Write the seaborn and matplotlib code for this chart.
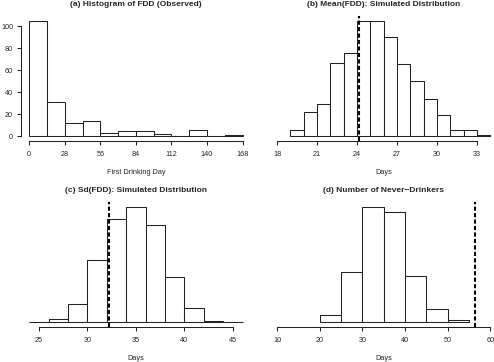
import numpy as np
import pandas as pd
import matplotlib
matplotlib.use("Agg")
import matplotlib.pyplot as plt
import seaborn as sns

# ---- data ----
fdd_edges = [0, 14, 28, 42, 56, 70, 84, 98, 112, 126, 140, 154, 168]
fdd_counts = [105, 31, 12, 14, 3, 5, 5, 2, 0, 6, 0, 1]
fdd_ticks = [0, 28, 56, 84, 112, 140, 168]
fdd_yticks = [0, 20, 40, 60, 80, 100]

mean_edges = [19, 20, 21, 22, 23, 24, 25, 26, 27, 28, 29, 30, 31, 32, 33, 34]
mean_counts = [9, 33, 43, 97, 111, 154, 153, 132, 96, 74, 50, 29, 9, 8, 2]
mean_ticks = [18, 21, 24, 27, 30, 33]
mean_obs = 24.16

sd_edges = [24, 26, 28, 30, 32, 34, 36, 38, 40, 42, 44, 46]
sd_counts = [1, 8, 40, 134, 223, 250, 210, 97, 32, 4, 1]
sd_ticks = [25, 30, 35, 40, 45]
sd_obs = 32.2

nd_edges = [20, 25, 30, 35, 40, 45, 50, 55]
nd_counts = [20, 145, 335, 320, 135, 39, 6]
nd_ticks = [10, 20, 30, 40, 50, 60]
nd_obs = 56.3

titles = ["(a) Histogram of FDD (Observed)",
          "(b) Mean(FDD): Simulated Distribution",
          "(c) Sd(FDD): Simulated Distribution",
          "(d) Number of Never\u2212Drinkers"]
xlabels = ["First Drinking Day", "Days", "Days", "Days"]

# ---- style ----
sns.set_style("ticks")
plt.rcParams["font.family"] = ["Liberation Sans", "DejaVu Sans"]

W, H = 494, 362
fig = plt.figure(figsize=(W / 100, H / 100), dpi=100)

def rect(left, top, w=230.4, h=125):
    return [left / W, (H - top - h) / H, w / W, h / H]

panels = [
    dict(r=rect(20.7, 16), edges=fdd_edges, counts=fdd_counts, ticks=fdd_ticks,
         xlim=(-6.72, 174.72), obs=None, yaxis=True),
    dict(r=rect(268.5, 16), edges=mean_edges, counts=mean_counts, ticks=mean_ticks,
         xlim=(17.36, 34.64), obs=mean_obs, yaxis=False),
    dict(r=rect(20.7, 202), edges=sd_edges, counts=sd_counts, ticks=sd_ticks,
         xlim=(23.12, 46.88), obs=sd_obs, yaxis=False),
    dict(r=rect(268.5, 202), edges=nd_edges, counts=nd_counts, ticks=nd_ticks,
         xlim=(8, 62), obs=nd_obs, yaxis=False),
]

title_fs = 6.0
tick_fs = 5.2
label_fs = 5.3
edge_col = "#222222"

for i, p in enumerate(panels):
    ax = fig.add_axes(p["r"])
    edges = [float(e) for e in p["edges"]]
    mids = [(a + b) / 2 for a, b in zip(edges[:-1], edges[1:])]
    df = pd.DataFrame({"x": mids, "w": [float(c) for c in p["counts"]]})
    sns.histplot(data=df, x="x", weights="w", bins=edges, ax=ax,
                 color="white", edgecolor=edge_col, linewidth=0.75, alpha=1)
    m = max(p["counts"])
    ax.set_xlim(*p["xlim"])
    ax.set_ylim(-0.04 * m, 1.04 * m)
    if p["obs"] is not None:
        ax.axvline(p["obs"], color="black", lw=1.5, ls=(0, (2, 1.1)), zorder=5)
    ax.set_xticks(p["ticks"])
    ax.set_xticklabels([str(t) for t in p["ticks"]])
    ax.spines["top"].set_visible(False)
    ax.spines["right"].set_visible(False)
    ax.spines["bottom"].set_bounds(p["ticks"][0], p["ticks"][-1])
    ax.spines["bottom"].set_linewidth(0.75)
    ax.spines["bottom"].set_color(edge_col)
    ax.tick_params(axis="x", length=3, width=0.75, color=edge_col, pad=4.5,
                   labelsize=tick_fs, direction="out")
    if p["yaxis"]:
        ax.set_yticks(fdd_yticks)
        ax.set_yticklabels([str(t) for t in fdd_yticks])
        ax.spines["left"].set_bounds(fdd_yticks[0], fdd_yticks[-1])
        ax.spines["left"].set_linewidth(0.75)
        ax.spines["left"].set_color(edge_col)
        ax.tick_params(axis="y", length=3, width=0.75, color=edge_col, pad=2.5,
                       labelsize=tick_fs, direction="out")
    else:
        ax.spines["left"].set_visible(False)
        ax.set_yticks([])
    ax.set_ylabel("")
    ax.set_xlabel(xlabels[i], fontsize=label_fs)
    ax.xaxis.set_label_coords(0.5, -32 / 125)
    ax.xaxis.label.set_va("center")
    ax.set_title(titles[i], y=1 + 11 / 125, pad=0, va="center",
                 fontweight="bold", fontsize=title_fs)
    ax.patch.set_alpha(0)

fig.savefig("out.png", dpi=100)
